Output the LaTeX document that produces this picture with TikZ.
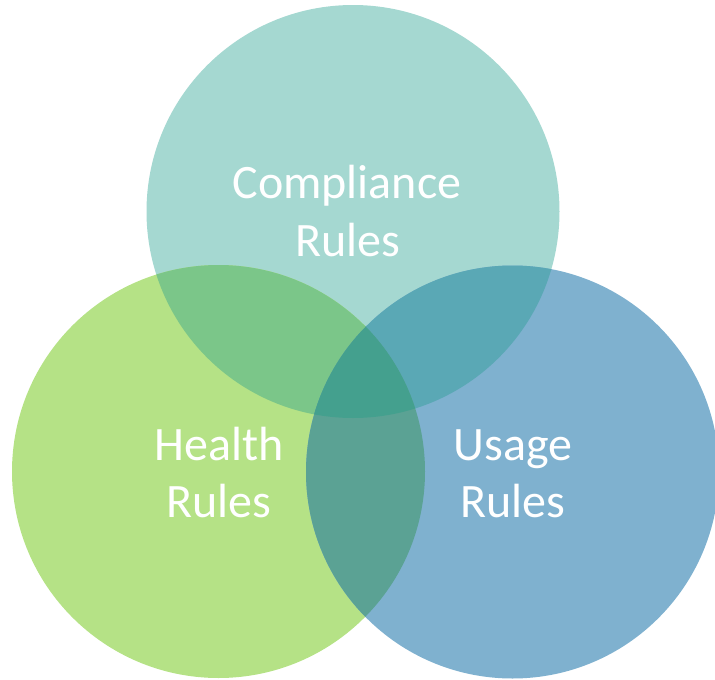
\documentclass[tikz,border=0pt]{standalone}
\usepackage{fontspec}
\setmainfont{Carlito}
\definecolor{cTop}{HTML}{A5D8D1}
\definecolor{cLeft}{HTML}{B5E286}
\definecolor{cRight}{HTML}{7FB1CF}
\definecolor{cTL}{HTML}{7BC689}
\definecolor{cTR}{HTML}{5AA8B5}
\definecolor{cLR}{HTML}{5BA294}
\definecolor{cAll}{HTML}{44A08E}
\tikzset{
  lbl/.style={text=white, inner sep=0pt, anchor=base, font=\fontsize{48}{57.5}\selectfont}
}
\begin{document}
\begin{tikzpicture}[x=1pt,y=-1pt]
\useasboundingbox (0,0) rectangle (715,680);
\coordinate (T) at (353,211.5);
\coordinate (L) at (218.5,471.5);
\coordinate (R) at (512.5,472);
\def\rad{206.5}
\fill[cTop] (T) circle[radius=\rad];
\fill[cLeft] (L) circle[radius=\rad];
\fill[cRight] (R) circle[radius=\rad];
\begin{scope}
  \clip (T) circle[radius=\rad];
  \fill[cTL] (L) circle[radius=\rad];
  \fill[cTR] (R) circle[radius=\rad];
\end{scope}
\begin{scope}
  \clip (L) circle[radius=\rad];
  \fill[cLR] (R) circle[radius=\rad];
  \clip (T) circle[radius=\rad];
  \fill[cAll] (R) circle[radius=\rad];
\end{scope}
\node[lbl] (c1) at (347,198) {Compliance};
\node[lbl] (c2) at (348,256) {Rules};
\node[lbl] (h1) at (219,460) {Health};
\node[lbl] (h2) at (219,517) {Rules};
\node[lbl] (u1) at (513,460) {Usage};
\node[lbl] (u2) at (513,517) {Rules};
\end{tikzpicture}
\end{document}
